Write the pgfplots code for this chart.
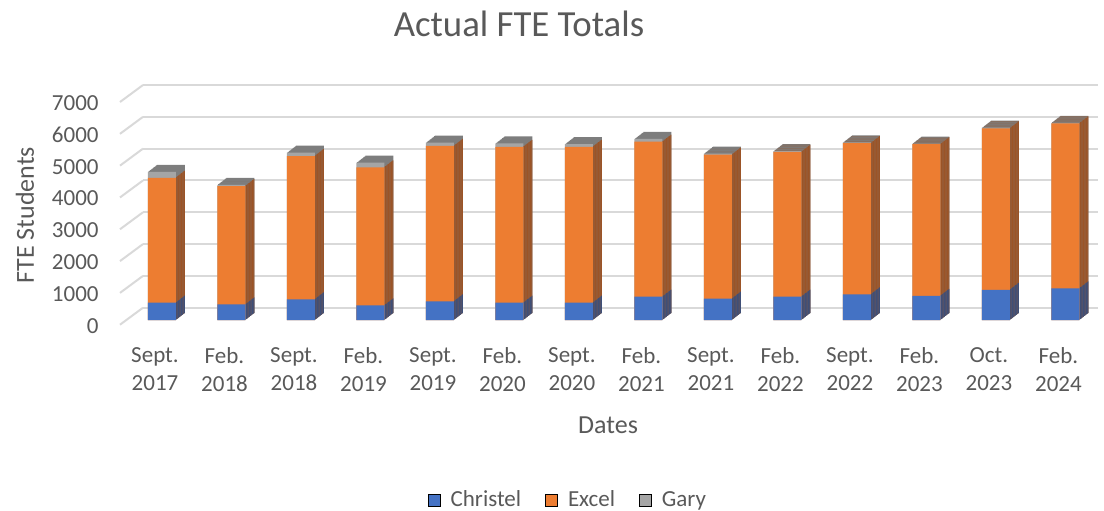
\documentclass[border=0pt]{standalone}
\usepackage{fontspec}
\setmainfont{Carlito}
\usepackage{pgfplots}
\usepackage{pgfplotstable}
\pgfplotsset{compat=1.18}
\definecolor{cBlue}{HTML}{4472C4}
\definecolor{cBlueD}{HTML}{2B4B85}
\definecolor{cOrange}{HTML}{ED7D31}
\definecolor{cOrangeD}{HTML}{A0501E}
\definecolor{cGrey}{HTML}{A5A5A5}
\definecolor{cGreyD}{HTML}{7D7D7D}
\definecolor{gridc}{HTML}{D9D9D9}
\definecolor{txt}{HTML}{595959}
\pgfplotstableread{
x C E G
0 545 3925 190
1 490 3720 40
2 650 4505 105
3 460 4340 145
4 585 4885 105
5 545 4900 105
6 545 4900 85
7 735 4870 85
8 670 4530 30
9 735 4550 20
10 805 4755 20
11 760 4765 20
12 950 5075 20
13 995 5185 20
}\datatable
\begin{document}
\begin{tikzpicture}
\useasboundingbox (-71.5pt,-101.15pt) rectangle (480.5pt,153.85pt);
\begin{axis}[
  at={(0,0)}, anchor=south west, scale only axis,
  width=477.5pt, height=111.35pt,
  xmin=-0.2734, xmax=13.468, ymin=0, ymax=7000,
  clip=false,
  axis line style={draw=none},
  major tick length=0pt,
  ymajorgrids, grid style={gridc, line width=1pt},
  ytick={0,1000,...,7000},
  scaled y ticks=false,
  yticklabel style={/pgf/number format/.cd, 1000 sep={}, assume math mode=true, /tikz/.cd, anchor=east, inner sep=0pt, xshift=-22pt, yshift=-9pt, font=\fontsize{11.5pt}{14pt}\selectfont, text=txt},
  xtick={0,...,13},
  xticklabels={{Sept.\\2017},{Feb.\\2018},{Sept.\\2018},{Feb.\\2019},{Sept.\\2019},{Feb.\\2020},{Sept.\\2020},{Feb.\\2021},{Sept.\\2021},{Feb.\\2022},{Sept.\\2022},{Feb.\\2023},{Oct.\\2023},{Feb.\\2024}},
  xticklabel style={align=center, anchor=north, inner sep=0pt, xshift=-3.5pt, yshift=-19.5pt, font=\fontsize{11.5pt}{14pt}\selectfont, text=txt},
  title={Actual FTE Totals},
  title style={at={(axis description cs:0.3937,1.222)}, anchor=center, font=\fontsize{18.4pt}{22pt}\selectfont, text=txt},
  xlabel={Dates},
  xlabel style={at={(axis description cs:0.487,-0.527)}, anchor=center, font=\fontsize{13pt}{15pt}\selectfont, text=txt},
  ylabel={FTE Students},
  ylabel style={at={(axis description cs:-0.1236,0.4163)}, anchor=center, font=\fontsize{13pt}{15pt}\selectfont, text=txt},
  legend style={at={(axis description cs:0.446,-0.865)}, anchor=center, draw=none, fill=none, legend columns=3,
    font=\fontsize{11.5pt}{14pt}\selectfont, text=txt,
    /tikz/every odd column/.append style={column sep=3pt},
    /tikz/every even column/.append style={column sep=10pt}},
  legend image code/.code={\fill[#1] (0pt,-3pt) rectangle (6pt,3pt);},
  mybar/.style={ybar, bar width=14pt, bar shift=0pt, draw=none, forget plot},
]
\pgfplotsinvokeforeach{12,11,10,9,8,7,6,5,4,3,2,1}{
  \addplot[mybar, fill=cGreyD, xshift={#1*0.375pt}, yshift={-6.15pt+#1*0.2917pt}]
    table[x=x, y expr=\thisrow{C}+\thisrow{E}+\thisrow{G}] {\datatable};
  \addplot[mybar, fill=cOrangeD, xshift={#1*0.375pt}, yshift={-6.15pt+#1*0.2917pt}]
    table[x=x, y expr=\thisrow{C}+\thisrow{E}] {\datatable};
  \addplot[mybar, fill=cBlueD, xshift={#1*0.375pt}, yshift={-6.15pt+#1*0.2917pt}]
    table[x=x, y=C] {\datatable};
}
\addplot[mybar, fill=cGrey, yshift=-6.15pt]
  table[x=x, y expr=\thisrow{C}+\thisrow{E}+\thisrow{G}] {\datatable};
\addplot[mybar, fill=cOrange, yshift=-6.15pt]
  table[x=x, y expr=\thisrow{C}+\thisrow{E}] {\datatable};
\addplot[mybar, fill=cBlue, yshift=-6.15pt]
  table[x=x, y=C] {\datatable};
\pgfplotsinvokeforeach{0,1000,2000,3000,4000,5000,6000,7000}{
  \draw[gridc, line width=1pt] (axis cs:-0.2734,#1) -- ++(-11.5pt,-8.5pt);
}
\addlegendimage{fill=cBlue}\addlegendentry{Christel}
\addlegendimage{fill=cOrange}\addlegendentry{Excel}
\addlegendimage{fill=cGrey}\addlegendentry{Gary}
\end{axis}
\end{tikzpicture}
\end{document}
